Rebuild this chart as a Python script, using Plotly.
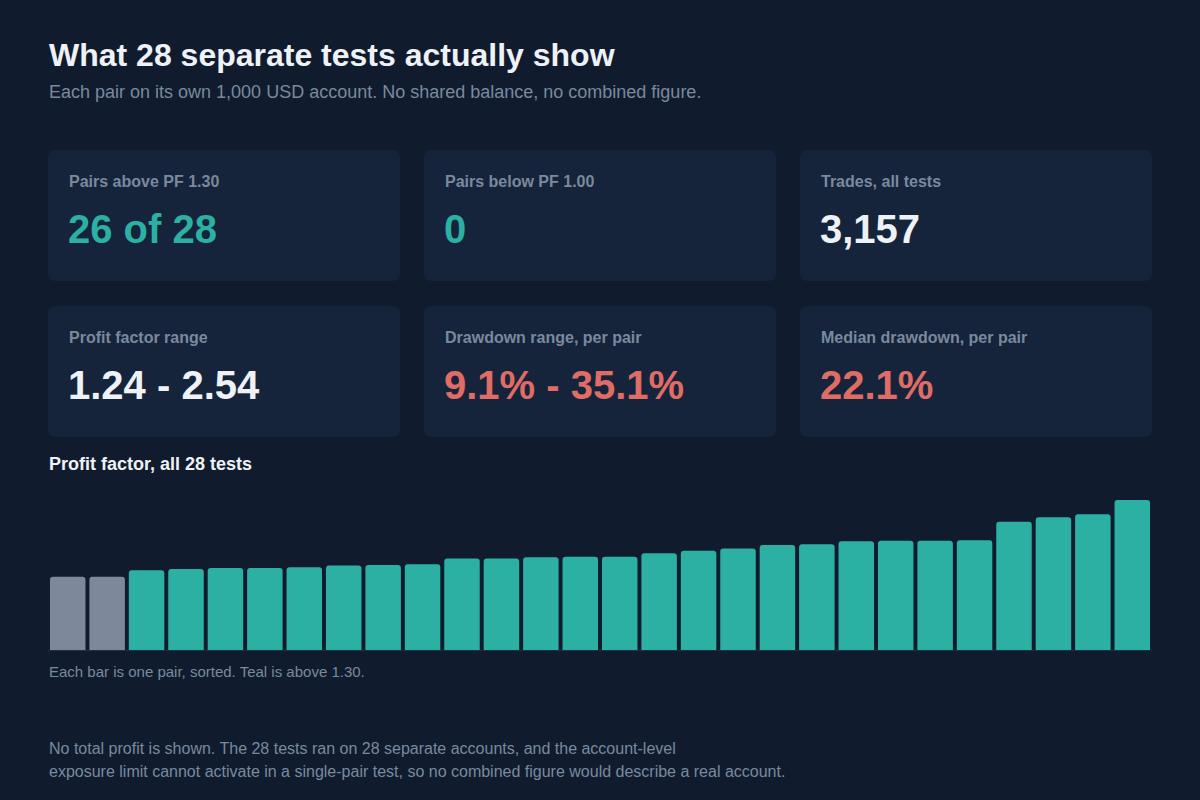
import plotly.graph_objects as go

# profit factor per pair, sorted ascending
profit_factor = [1.24, 1.24, 1.35, 1.37, 1.39, 1.39, 1.40, 1.43, 1.44, 1.45,
                 1.55, 1.55, 1.57, 1.58, 1.58, 1.64, 1.68, 1.72, 1.78, 1.79,
                 1.84, 1.85, 1.85, 1.86, 2.17, 2.25, 2.30, 2.54]
pair_index = list(range(1, len(profit_factor) + 1))
pf_threshold = 1.30

card_labels = ["Pairs above PF 1.30", "Pairs below PF 1.00", "Trades, all tests",
               "Profit factor range", "Drawdown range, per pair", "Median drawdown, per pair"]
card_values = ["26 of 28", "0", "3,157", "1.24 - 2.54", "9.1% - 35.1%", "22.1%"]
card_tones = ["good", "good", "plain", "plain", "bad", "bad"]

BG = "#101c2e"
CARD = "#15243a"
TEAL = "#2cb0a3"
GREY = "#7d899a"
RED = "#e06c66"
WHITE = "#eef2f7"
MUTED = "#7a899e"
FONT = "Liberation Sans, Arial, sans-serif"
W, H = 1200, 800

tone_color = {"good": TEAL, "bad": RED, "plain": WHITE}


def px(x):
    return x / W


def py(y):
    return 1 - y / H


def rounded_rect(x0, y0, x1, y1, r):
    # svg path in paper coords, y given in pixels from top
    pts = (f"M {px(x0 + r)},{py(y0)} L {px(x1 - r)},{py(y0)} "
           f"Q {px(x1)},{py(y0)} {px(x1)},{py(y0 + r)} "
           f"L {px(x1)},{py(y1 - r)} Q {px(x1)},{py(y1)} {px(x1 - r)},{py(y1)} "
           f"L {px(x0 + r)},{py(y1)} Q {px(x0)},{py(y1)} {px(x0)},{py(y1 - r)} "
           f"L {px(x0)},{py(y0 + r)} Q {px(x0)},{py(y0)} {px(x0 + r)},{py(y0)} Z")
    return pts


fig = go.Figure()

bar_colors = [TEAL if v > pf_threshold else GREY for v in profit_factor]
fig.add_trace(go.Bar(x=pair_index, y=profit_factor,
                     marker=dict(color=bar_colors, cornerradius=3, line=dict(width=0)),
                     hoverinfo="y", showlegend=False))

shapes = []
annotations = []

# kpi cards, 3 per row
card_w, card_h = 352, 131
col_x = [48, 424, 800]
row_y = [150, 306]
for i, (lab, val, tone) in enumerate(zip(card_labels, card_values, card_tones)):
    x0 = col_x[i % 3]
    y0 = row_y[i // 3]
    shapes.append(dict(type="path", xref="paper", yref="paper", layer="below",
                       path=rounded_rect(x0, y0, x0 + card_w, y0 + card_h, 8),
                       fillcolor=CARD, line=dict(width=0)))
    annotations.append(dict(x=px(x0 + 19), y=py(y0 + 31), text=f"<b>{lab}</b>",
                            font=dict(size=16, color=MUTED)))
    annotations.append(dict(x=px(x0 + 18), y=py(y0 + 79), text=f"<b>{val}</b>",
                            font=dict(size=40, color=tone_color[tone])))

annotations += [
    dict(x=px(47), y=py(55), text="<b>What 28 separate tests actually show</b>",
         font=dict(size=32, color=WHITE)),
    dict(x=px(47), y=py(92), text="Each pair on its own 1,000 USD account. No shared balance, no combined figure.",
         font=dict(size=18, color=MUTED)),
    dict(x=px(47), y=py(464), text="<b>Profit factor, all 28 tests</b>",
         font=dict(size=18, color=WHITE)),
    dict(x=px(47), y=py(671), text="Each bar is one pair, sorted. Teal is above 1.30.",
         font=dict(size=15, color=MUTED)),
    dict(x=px(47), y=py(748), text="No total profit is shown. The 28 tests ran on 28 separate accounts, and the account-level",
         font=dict(size=16, color=MUTED)),
    dict(x=px(47), y=py(771), text="exposure limit cannot activate in a single-pair test, so no combined figure would describe a real account.",
         font=dict(size=16, color=MUTED)),
]
for a in annotations:
    a.update(xref="paper", yref="paper", xanchor="left", yanchor="middle", showarrow=False)

fig.update_layout(
    width=W, height=H,
    margin=dict(l=0, r=0, t=0, b=0),
    paper_bgcolor=BG, plot_bgcolor=BG,
    font=dict(family=FONT, color=WHITE),
    bargap=0.1,
    shapes=shapes,
    annotations=annotations,
    xaxis=dict(domain=[px(48), px(1152)], range=[0.5, 28.5], showticklabels=False,
               showgrid=False, zeroline=False, showline=False, fixedrange=True),
    yaxis=dict(domain=[py(650), py(500)], range=[0, 2.54], showticklabels=False,
               showgrid=False, zeroline=True, zerolinecolor="#1f2e44", zerolinewidth=1,
               showline=False, fixedrange=True),
)

# drop the browser's default body margin so the figure fills the window
fig.write_html("out.html", config={"displayModeBar": False},
               post_script="document.body.style.margin='0';")
